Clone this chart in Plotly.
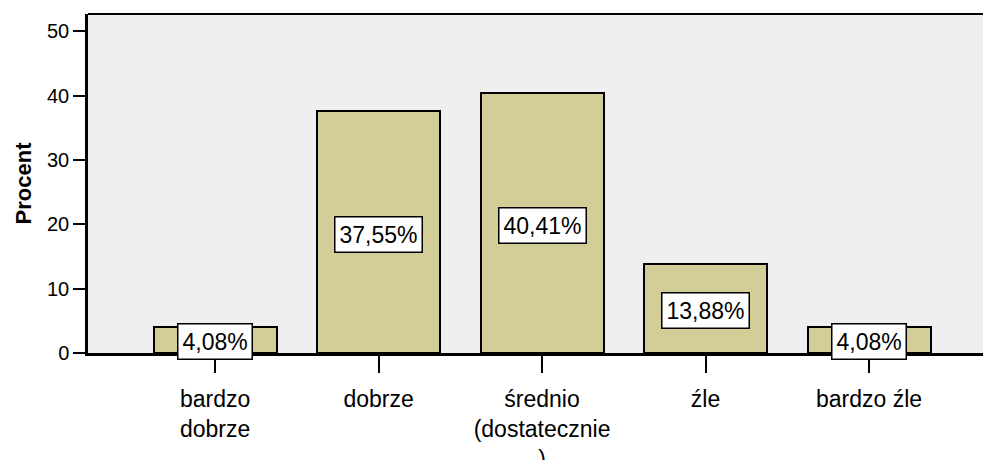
import plotly.graph_objects as go

categories = ["bardzo dobrze", "dobrze", "średnio (dostatecznie )", "źle", "bardzo źle"]
tick_labels = ["bardzo<br>dobrze", "dobrze", "średnio<br>(dostatecznie<br>)", "źle", "bardzo źle"]
percent = [4.08, 37.55, 40.41, 13.88, 4.08]
label_text = ["4,08%", "37,55%", "40,41%", "13,88%", "4,08%"]

FONT = "Arial, 'Liberation Sans', sans-serif"

fig = go.Figure()
fig.add_trace(go.Bar(
    x=categories, y=percent, width=0.752,
    marker=dict(color="#D3CE98", line=dict(color="black", width=2)),
    hoverinfo="skip",
))

for c, v, t in zip(categories, percent, label_text):
    fig.add_annotation(
        x=c, y=v / 2, text=t, showarrow=False, yshift=-2,
        font=dict(family=FONT, size=23, color="black"),
        bgcolor="white", bordercolor="black", borderwidth=1.5, borderpad=4,
    )

fig.update_layout(
    template="none",
    width=983, height=460,
    margin=dict(l=88, r=0, t=14, b=107, pad=0),
    paper_bgcolor="white", plot_bgcolor="#EFEFEF",
    showlegend=False,
    font=dict(family=FONT, color="black"),
    bargap=0,
)

fig.update_xaxes(
    automargin=False,
    type="category", categoryorder="array", categoryarray=categories,
    tickvals=categories, ticktext=tick_labels,
    range=[-0.777, 4.697],
    showline=True, linecolor="black", linewidth=2.5, mirror=False,
    ticks="outside", ticklen=17, tickwidth=2, tickcolor="black",
    tickfont=dict(family=FONT, size=23, color="black"),
    ticklabelstandoff=7,
    showgrid=False, zeroline=False,
)

fig.update_yaxes(
    automargin=False,
    range=[0, 52.7],
    tickvals=[0, 10, 20, 30, 40, 50],
    showline=True, linecolor="black", linewidth=2.5,
    ticks="outside", ticklen=12, tickwidth=2, tickcolor="black",
    tickfont=dict(family=FONT, size=20, color="black"),
    title=dict(text="<b>Procent</b>", font=dict(family=FONT, size=22, color="black"), standoff=10),
    showgrid=False, zeroline=False,
)

# top border of plot area
fig.add_shape(type="line", xref="paper", yref="paper", x0=0, x1=1, y0=1, y1=1,
              line=dict(color="black", width=2))

fig.write_html(
    "out.html",
    config={"displayModeBar": False},
    post_script="document.body.style.margin='0px';document.body.style.overflow='hidden';",
)
